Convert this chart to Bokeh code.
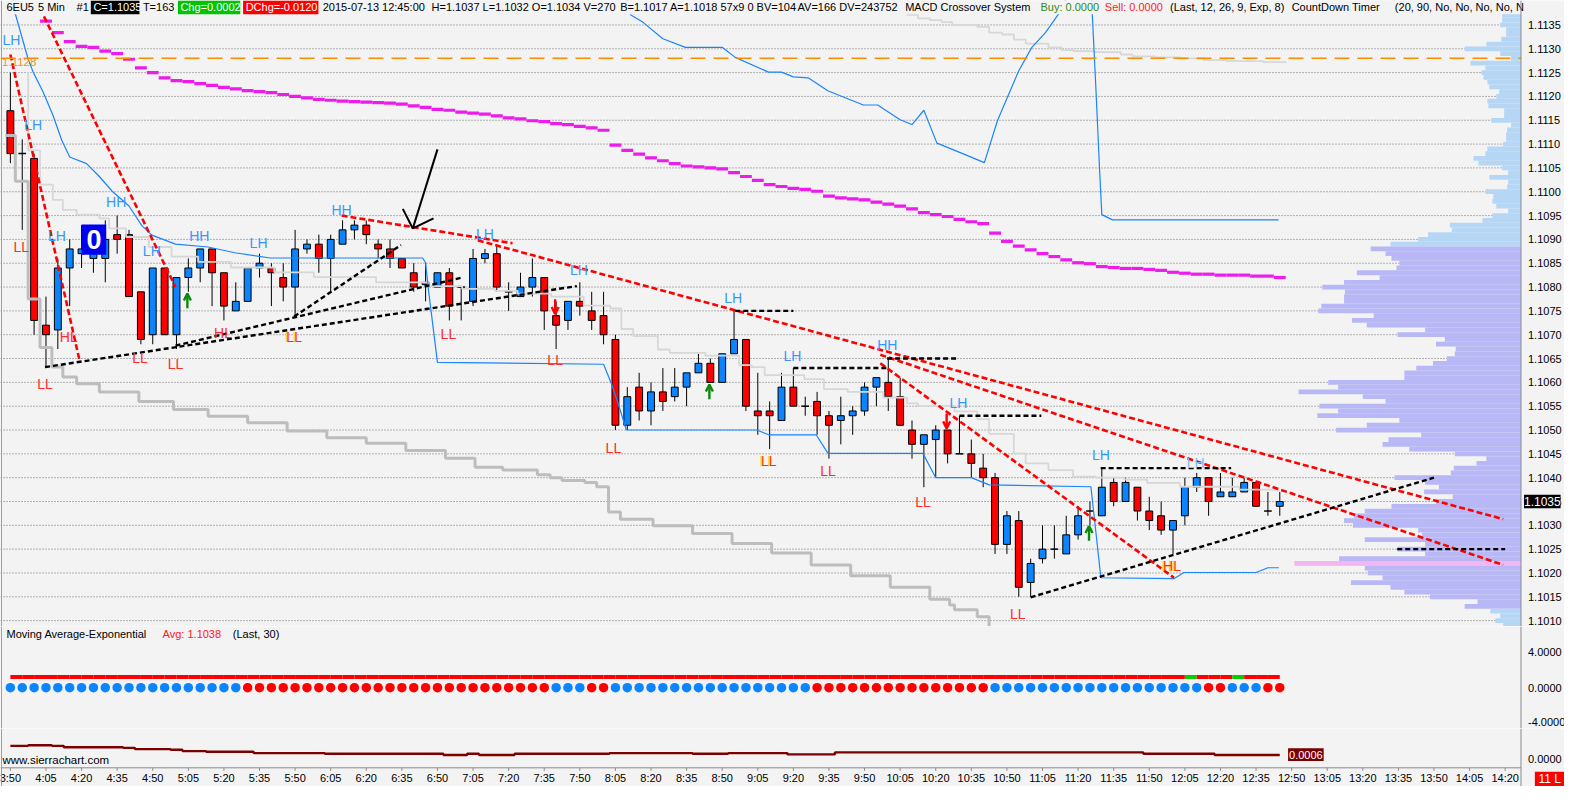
import numpy as np
from bokeh.plotting import figure
from bokeh.layouts import column
from bokeh.models import Range1d, Span, Arrow, OpenHead
from bokeh.embed import file_html
from bokeh.resources import INLINE
from bokeh.core.properties import value

# ---------------- DATA ----------------
# 5-minute bars, bar 0 = 3:50
opens = [1.1117, 1.1108, 1.1107, 1.1072, 1.1071, 1.1084, 1.1087, 1.1086, 1.1086, 1.1091,
         1.1091, 1.1079, 1.1070, 1.1084, 1.1070, 1.1082, 1.1084, 1.1088, 1.1083, 1.1075,
         1.1077, 1.1084, 1.1084, 1.1082, 1.1080, 1.1088, 1.1089, 1.1086, 1.1089, 1.1092,
         1.1093, 1.1089, 1.1088, 1.1086, 1.1083, 1.10805, 1.1080, 1.1083, 1.1080, 1.1077,
         1.1086, 1.1087, 1.1079, 1.1078, 1.1080, 1.1082, 1.1074, 1.1073, 1.1077, 1.1075,
         1.1074, 1.1069, 1.1051, 1.1059, 1.1054, 1.1058, 1.1057, 1.1059, 1.1062, 1.1064,
         1.1060, 1.1066, 1.1069, 1.1054, 1.1054, 1.1052, 1.1059, 1.1055, 1.1056, 1.1053,
         1.1052, 1.1053, 1.1054, 1.1059, 1.1060, 1.1057, 1.1050, 1.1047, 1.1048, 1.1050,
         1.1045, 1.1045, 1.1042, 1.1040, 1.1026, 1.1031, 1.1018, 1.1023, 1.1025, 1.1024,
         1.1028, 1.1033, 1.1032, 1.1039, 1.1035, 1.1038, 1.1033, 1.1032, 1.1029, 1.1032,
         1.1038, 1.1040, 1.1036, 1.1036, 1.1037, 1.1039, 1.1033, 1.1034]
highs = [1.1125, 1.1111, 1.1108, 1.1078, 1.1086, 1.1090, 1.1093, 1.1092, 1.1094, 1.1095,
         1.1092, 1.1079, 1.1084, 1.1084, 1.1082, 1.1086, 1.1088, 1.1088, 1.1083, 1.1081,
         1.1084, 1.1087, 1.1085, 1.1085, 1.1092, 1.1090, 1.1091, 1.1091, 1.1094, 1.1094,
         1.1094, 1.1090, 1.1090, 1.1086, 1.1085, 1.1085, 1.1083, 1.1084, 1.1080, 1.1088,
         1.1088, 1.1089, 1.1081, 1.1083, 1.1086, 1.1082, 1.1077, 1.1077, 1.1081, 1.1079,
         1.1079, 1.1070, 1.1059, 1.1062, 1.1060, 1.1063, 1.1063, 1.1062, 1.1066, 1.1065,
         1.1066, 1.1075, 1.1069, 1.1062, 1.1056, 1.1062, 1.1063, 1.1057, 1.1058, 1.1054,
         1.1057, 1.1055, 1.1060, 1.1061, 1.1065, 1.1061, 1.1052, 1.1049, 1.1051, 1.1050,
         1.1053, 1.1048, 1.1045, 1.1041, 1.1033, 1.1033, 1.1023, 1.1030, 1.1030, 1.1032,
         1.1034, 1.1035, 1.1042, 1.1040, 1.1040, 1.1038, 1.1036, 1.1035, 1.1031, 1.1040,
         1.1041, 1.1040, 1.1041, 1.1040, 1.1040, 1.1039, 1.1037, 1.1037]
lows = [1.1106, 1.1092, 1.1070, 1.1063, 1.1067, 1.1076, 1.1084, 1.1083, 1.1081, 1.1087,
        1.1078, 1.1068, 1.1068, 1.1070, 1.1067, 1.1079, 1.1081, 1.1076, 1.1073, 1.1075,
        1.1077, 1.1082, 1.1076, 1.1077, 1.1074, 1.1087, 1.1083, 1.1079, 1.1089, 1.1090,
        1.1089, 1.1086, 1.1084, 1.1084, 1.1079, 1.1077, 1.1080, 1.1073, 1.1073, 1.1076,
        1.1085, 1.1079, 1.1075, 1.1078, 1.1078, 1.1071, 1.1067, 1.1071, 1.1074, 1.1071,
        1.1068, 1.1050, 1.1050, 1.1052, 1.1051, 1.1054, 1.1056, 1.1055, 1.1062, 1.1060,
        1.1060, 1.1066, 1.1054, 1.1049, 1.1046, 1.1052, 1.1055, 1.1053, 1.1049, 1.1044,
        1.1047, 1.1049, 1.1053, 1.1055, 1.1054, 1.1051, 1.1044, 1.1038, 1.1040, 1.1043,
        1.1045, 1.1040, 1.1038, 1.1024, 1.1024, 1.1015, 1.1015, 1.1022, 1.1023, 1.1024,
        1.1027, 1.1030, 1.1032, 1.1034, 1.1035, 1.1031, 1.1029, 1.1028, 1.1024, 1.1030,
        1.1037, 1.1032, 1.1036, 1.1036, 1.1037, 1.1034, 1.1032, 1.1032]
closes = [1.1108, 1.1108, 1.1073, 1.1070, 1.1084, 1.1088, 1.1088, 1.1089, 1.1090, 1.1090,
          1.1078, 1.1069, 1.1084, 1.1070, 1.1082, 1.1084, 1.1088, 1.1083, 1.1076, 1.1077,
          1.1084, 1.1085, 1.1083, 1.1080, 1.1088, 1.1089, 1.1086, 1.1090, 1.1092, 1.1093,
          1.1091, 1.1088, 1.1086, 1.1084, 1.1080, 1.1081, 1.1083, 1.1076, 1.1080, 1.1086,
          1.1087, 1.1080, 1.1079, 1.1080, 1.1082, 1.1075, 1.1072, 1.1077, 1.1076, 1.1073,
          1.1070, 1.1051, 1.1057, 1.1054, 1.1058, 1.1056, 1.1059, 1.1062, 1.1064, 1.1060,
          1.1066, 1.1069, 1.1055, 1.1053, 1.1053, 1.1059, 1.1055, 1.1055, 1.1053, 1.1051,
          1.1053, 1.1054, 1.1059, 1.1061, 1.1057, 1.1051, 1.1047, 1.1049, 1.1050, 1.1045,
          1.1045, 1.1043, 1.1040, 1.1026, 1.1032, 1.1017, 1.1022, 1.1025, 1.1025, 1.1028,
          1.1032, 1.1033, 1.1038, 1.1035, 1.1039, 1.1033, 1.1031, 1.1029, 1.1031, 1.1038,
          1.1040, 1.1035, 1.1037, 1.1037, 1.1039, 1.1034, 1.1033, 1.1035]

time_labels = ["3:50", "4:05", "4:20", "4:35", "4:50", "5:05", "5:20", "5:35", "5:50", "6:05",
               "6:20", "6:35", "6:50", "7:05", "7:20", "7:35", "7:50", "8:05", "8:20", "8:35",
               "8:50", "9:05", "9:20", "9:35", "9:50", "10:05", "10:20", "10:35", "10:50", "11:05",
               "11:20", "11:35", "11:50", "12:05", "12:20", "12:35", "12:50", "13:05", "13:20",
               "13:35", "13:50", "14:05", "14:20"]
price_ticks = [1.1010, 1.1015, 1.1020, 1.1025, 1.1030, 1.1035, 1.1040, 1.1045, 1.1050,
               1.1055, 1.1060, 1.1065, 1.1070, 1.1075, 1.1080, 1.1085, 1.1090, 1.1095,
               1.1100, 1.1105, 1.1110, 1.1115, 1.1120, 1.1125, 1.1130, 1.1135]
sub1_ticks = [4, 0, -4]
sub2_ticks = [0]

# slow moving average (magenta), one value per bar starting at bar 3
magenta_start = 3
magenta = [1.11358, 1.11334, 1.11315, 1.11305, 1.11303, 1.11295, 1.1129, 1.11278, 1.1126, 1.1125,
           1.11239, 1.11233, 1.11231, 1.11227, 1.11223, 1.11219, 1.11216, 1.11212, 1.1121, 1.11208,
           1.11204, 1.112, 1.11197, 1.11194, 1.11192, 1.1119, 1.11189, 1.11188, 1.11187, 1.11186,
           1.11184, 1.1118, 1.11177, 1.11173, 1.11171, 1.11167, 1.11165, 1.11163, 1.11159, 1.11155,
           1.11153, 1.11149, 1.11147, 1.11143, 1.11141, 1.11137, 1.11134, 1.11129, 1.11098, 1.11087,
           1.11079, 1.11071, 1.11065, 1.11059, 1.11054, 1.11052, 1.1105, 1.11048, 1.1104, 1.11032,
           1.11024, 1.11015, 1.11011, 1.11007, 1.11005, 1.11001, 1.10991, 1.10987, 1.10985, 1.10983,
           1.10978, 1.10974, 1.1097, 1.10964, 1.10956, 1.10952, 1.10948, 1.10942, 1.10937, 1.10933,
           1.10913, 1.10896, 1.10886, 1.10878, 1.1087, 1.10864, 1.10857, 1.10851, 1.10849, 1.10843,
           1.10841, 1.10839, 1.10839, 1.10837, 1.10835, 1.10831, 1.10829, 1.10827, 1.10827, 1.10825,
           1.10825, 1.10825, 1.10823, 1.10823, 1.1082]

# lower blue average line (bar, price)
blue_lo_x = [0.2, 0.42, 1.5, 1.92, 2.75, 3.58, 4.33, 5.0, 6.42, 7.5, 8.58, 10.0, 11.08, 11.92,
             13.92, 16.67, 18.92, 21.92, 34.75, 35.0, 35.25, 36.0, 50.0, 50.67, 51.25, 51.92,
             62.92, 63.92, 67.92, 68.92, 76.92, 78.0, 81.0, 82.5, 91.08, 91.92, 98.08, 98.92,
             105.0, 106.0, 106.92]
blue_lo_y = [1.1141, 1.11373, 1.11278, 1.11251, 1.1121, 1.11161, 1.11108, 1.11073, 1.11059,
             1.11032, 1.11001, 1.1097, 1.10929, 1.10909, 1.1089, 1.10884, 1.10872, 1.10861,
             1.10861, 1.10851, 1.10792, 1.10642, 1.10638, 1.10597, 1.10554, 1.1050, 1.1050,
             1.1049, 1.1049, 1.10451, 1.10451, 1.104, 1.104, 1.10385, 1.10381, 1.1019, 1.10188,
             1.10201, 1.10201, 1.10211, 1.10211]
# upper blue line
blue_hi_x = [51.8, 52.3, 53.3, 55.0, 56.9, 60.0, 61.1, 63.9, 65.0, 66.0, 67.25, 68.9, 71.9, 73.1,
             75.0, 76.0, 77.0, 78.1, 79.4, 82.1, 83.2, 85.0, 86.1, 87.25, 88.3, 89.3, 91.1, 91.2,
             91.5, 91.8, 92.0, 92.9, 106.9]
blue_hi_y = [1.1142, 1.11371, 1.11356, 1.11321, 1.11303, 1.11303, 1.11282, 1.11251, 1.11251,
             1.11241, 1.11239, 1.11212, 1.11182, 1.11182, 1.11151, 1.11141, 1.11171, 1.11102,
             1.11089, 1.11061, 1.11149, 1.11254, 1.11303, 1.11334, 1.11371, 1.1142, 1.1142,
             1.11371, 1.11217, 1.11052, 1.10952, 1.10941, 1.10941]
# light grey stepped lines
grey_lo_x = [1.5, 1.5, 2.5, 3.58, 4.42, 5.58, 7.5, 8.33, 9.75, 11.67, 13.58, 15.83, 18.58, 22.25,
             25.58, 30.83, 35.25, 38.08, 40.83, 42.75, 45.58, 48.33, 50.58, 51.5, 52.5, 54.58,
             55.58, 58.58, 61.42, 62.5, 63.58, 66.92, 68.58, 70.58, 73.58, 75.58, 76.5, 79.58,
             81.5, 82.5, 84.58, 85.58, 87.5, 89.58, 91.5, 93.92, 95.83, 98.58, 103.58, 106.92]
grey_lo_y = [1.11251, 1.11087, 1.11015, 1.10983, 1.10962, 1.10952, 1.10944, 1.10923, 1.10905,
             1.10884, 1.10864, 1.10853, 1.10841, 1.10831, 1.10821, 1.1081, 1.10802, 1.10796,
             1.10792, 1.10786, 1.1078, 1.10761, 1.10755, 1.10712, 1.10697, 1.10669, 1.10662,
             1.10656, 1.10636, 1.10632, 1.10615, 1.10607, 1.10586, 1.1058, 1.10568, 1.10556,
             1.1055, 1.10539, 1.10523, 1.10492, 1.10451, 1.1043, 1.10416, 1.10402, 1.104,
             1.10396, 1.10389, 1.10381, 1.10375, 1.10371]
grey_hi_x = [75.4, 75.6, 76.5, 77.5, 78.5, 79.4, 81.5, 82.5, 83.6, 84.6, 85.6, 87.5, 88.6, 89.6,
             91.4, 93.6, 94.6, 96.5, 98.6, 100.6, 102.5, 105.6, 107.5]
grey_hi_y = [1.1141, 1.11371, 1.11364, 1.1136, 1.11356, 1.1135, 1.11346, 1.11334, 1.1133,
             1.11319, 1.11311, 1.11303, 1.11297, 1.11295, 1.11293, 1.11288, 1.11284, 1.11282,
             1.1128, 1.11276, 1.11274, 1.11272, 1.1127]
# darker, thick grey stepped line
grey_dk_x = [-0.42, 0.42, 1.5, 2.5, 3.5, 4.42, 5.58, 7.5, 10.83, 13.75, 16.67, 20.0, 23.33, 26.67,
             30.0, 33.33, 36.67, 39.17, 41.5, 44.42, 45.5, 46.5, 48.42, 49.42, 50.42, 51.42,
             54.17, 57.5, 60.83, 64.17, 67.5, 70.83, 74.17, 77.5, 79.17, 79.58, 81.5, 82.5]
grey_dk_y = [1.11118, 1.11022, 1.10775, 1.10673, 1.10632, 1.10611, 1.10597, 1.1058, 1.1056,
             1.10543, 1.10529, 1.10515, 1.10498, 1.10484, 1.10472, 1.10457, 1.10441, 1.10422,
             1.10416, 1.10406, 1.104, 1.10394, 1.1039, 1.10381, 1.10328, 1.10313, 1.10299,
             1.10283, 1.10262, 1.10242, 1.10217, 1.10194, 1.1017, 1.10145, 1.10133, 1.10123,
             1.10108, 1.10088]

# drawn trend lines (bar, price)
red_x0 = [0.0, 2.5, 27.92, 39.4, 73.33, 73.33]
red_y0 = [1.11288, 1.11385, 1.1095, 1.10898, 1.10658, 1.1064]
red_x1 = [5.83, 13.92, 42.33, 125.83, 125.83, 98.08]
red_y1 = [1.10646, 1.1080, 1.10892, 1.10313, 1.10217, 1.1019]
blk_x0 = [2.92, 13.92, 23.92, 61.1, 66.0, 73.9, 80.0, 91.9, 116.9, 86.0]
blk_y0 = [1.10632, 1.10677, 1.10738, 1.1075, 1.1063, 1.1065, 1.1053, 1.1042, 1.1025, 1.10149]
blk_x1 = [47.75, 38.08, 32.92, 66.0, 73.9, 79.75, 86.9, 102.9, 126.0, 120.0]
blk_y1 = [1.10802, 1.1082, 1.10888, 1.1075, 1.1063, 1.1065, 1.1053, 1.1042, 1.1025, 1.1040]
pen_x = [36.0, 33.92]
pen_y = [1.11089, 1.10923]
pen_head_x = [33.08, 33.92, 35.67]
pen_head_y = [1.10964, 1.10923, 1.10944]
level_price = 1.1128

# swing labels
lab_x = [0.08, 1.92, 3.92, 8.92, 11.92, 15.92, 20.92, 27.92, 40.0, 47.92, 60.92, 65.92, 73.92,
         79.92, 91.92, 99.92,
         0.92, 4.92, 2.92, 10.92, 13.92, 17.92, 36.92, 45.92, 50.83, 68.92, 76.92, 84.92,
         23.92, 63.92, 97.92]
lab_y = [1.11319, 1.11139, 1.10907, 1.10978, 1.10876, 1.10907, 1.10892, 1.10962, 1.10911,
         1.10835, 1.10777, 1.10656, 1.10679, 1.10556, 1.10447, 1.10430,
         1.10884, 1.10695, 1.10597, 1.10652, 1.10638, 1.10704, 1.10701, 1.10646, 1.10463,
         1.10414, 1.10350, 1.10114,
         1.10695, 1.10435, 1.10215]
lab_t = ["LH", "LH", "LH", "HH", "LH", "HH", "LH", "HH", "LH", "LH", "LH", "LH", "HH", "LH", "LH", "LH",
         "LL", "HL", "LL", "LL", "LL", "HL", "LL", "LL", "LL", "LL", "LL", "LL",
         "LL", "LL", "HL"]
lab_k = ["b"] * 15 + ["f"] + ["r"] * 12 + ["o"] * 3
arrow_x = [14.92, 58.92, 90.92, 45.92, 78.92]
arrow_y = [1.10771, 1.1058, 1.10283, 1.10759, 1.10519]
arrow_dir = ["up", "up", "up", "down", "down"]
counter_x, counter_y = 7.04, 1.108995

# volume profile: one value per 0.0001 from 1.1137 downward
prof_top = 1.1137
prof_vol = [19, 19, 21, 15, 15, 20, 35, 57, 21, 10,
            51, 36, 40, 38, 34, 32, 22, 25, 34, 33,
            17, 17, 30, 10, 14, 15, 15, 18, 34, 36,
            48, 43, 19, 13, 32, 13, 14, 36, 28, 29,
            25, 13, 29, 39, 72, 70, 94, 104, 132, 152,
            137, 131, 123, 126, 166, 143, 179, 201, 178, 179,
            179, 202, 205, 149, 171, 156, 97, 125, 77, 86,
            66, 67, 75, 89, 106, 118, 118, 195, 185, 225,
            160, 137, 204, 185, 206, 123, 156, 187, 101, 134,
            140, 113, 67, 35, 45, 68, 71, 128, 97, 83,
            98, 69, 86, 131, 158, 169, 179, 170, 104, 100,
            158, 97, 125, 97, 184, 229, 158, 155, 140, 172,
            132, 118, 92, 44, 57, 31, 21, 26, 18]
va_high, va_low, poc_price = 1.1088, 1.1013, 1.1022

# lower panes
dot_runs = [("B", 20), ("R", 26), ("B", 3), ("R", 2), ("B", 17), ("R", 15), ("B", 18),
            ("R", 2), ("B", 3), ("R", 2)]
signal_runs = [("S", 99), ("B", 1), ("S", 3), ("B", 1), ("S", 4)]
signal_level = 1.19
atr_runs = [(0.0020, 2), (0.0021, 2), (0.0020, 1), (0.0018, 5), (0.0017, 1), (0.0015, 3),
            (0.0014, 1), (0.0012, 2), (0.0011, 4), (0.0009, 6), (0.0008, 10), (0.0006, 2),
            (0.0008, 1), (0.0006, 3), (0.0008, 8), (0.0009, 7), (0.0008, 3), (0.0009, 5),
            (0.0007, 4), (0.0010, 26), (0.0008, 6), (0.0006, 6)]

# ---------------- STYLE / LAYOUT ----------------
FONT = "Liberation Sans"
BG = "#f3f3f3"
UPC, DNC = "#0a84ff", "#ff0000"
AXC = "#8a8a8a"
W = 1564
X0, XA, X_END = -0.833, 127.333, 131.0      # left edge, price-axis line, right edge (bars)
PTOP, PBOT = 1.114013, 1.100877
CLIP_TOP = 1.113726                          # top of the drawing area below the header
HDR_Y = 1.11387
HDR_H = 0.000287

xr = Range1d(X0, X_END)


def make_fig(height, yr):
    f = figure(width=W, height=height, x_range=xr, y_range=yr, output_backend="svg",
               toolbar_location=None, title=None, x_axis_location=None, y_axis_location=None,
               min_border_left=0, min_border_right=0, min_border_top=0, min_border_bottom=0,
               background_fill_color=BG, border_fill_color=BG, outline_line_color=None)
    f.xgrid.visible = False
    f.ygrid.visible = False
    f.add_layout(Span(location=X0 + 0.08, dimension="height", line_color="#9a9a9a", line_width=1))
    f.add_layout(Span(location=XA, dimension="height", line_color=AXC, line_width=1))
    return f


def tick_text(f, ys, labels):
    f.text(x=[XA] * len(ys), y=ys, text=labels, x_offset=7, text_color="black",
           text_font=value(FONT), text_font_size="11px", text_align="left",
           text_baseline="middle")


# ---------------- MAIN PANE ----------------
main = make_fig(626, Range1d(PBOT, PTOP))
main.segment(x0=X0, y0=price_ticks, x1=XA, y1=price_ticks, line_color="#6f6f6f",
             line_width=1, line_dash="1 2")

# volume profile
pv = np.array(prof_vol, dtype=float)
pp = np.round(prof_top - 0.0001 * np.arange(len(pv)), 4)
pcol = []
for pr in pp:
    if abs(pr - poc_price) < 1e-7:
        pcol.append("#f4b6f0")
    elif va_low - 1e-7 <= pr <= va_high + 1e-7:
        pcol.append("#b8b8f6")
    else:
        pcol.append("#b6d6f6")
main.hbar(y=pp, left=XA - pv / 12.0, right=XA, height=0.0001, fill_color=pcol, line_color=None)
main.hbar(y=[poc_price], left=[108.25], right=[XA], height=0.00009, fill_color="#f4b6f0",
          line_color=None)

# candles
idx = np.arange(len(opens))
o, h, l, c = (np.array(a) for a in (opens, highs, lows, closes))
up, dn, dj = c > o, c < o, c == o
main.segment(x0=idx, y0=l, x1=idx, y1=h, line_color="black", line_width=1)
main.vbar(x=idx[up], bottom=o[up], top=c[up], width=0.58, fill_color=UPC, line_color="black",
          line_width=1)
main.vbar(x=idx[dn], bottom=c[dn], top=o[dn], width=0.58, fill_color=DNC, line_color="black",
          line_width=1)
main.segment(x0=idx[dj] - 0.32, y0=o[dj], x1=idx[dj] + 0.32, y1=o[dj], line_color="black",
             line_width=1.5)

# study lines
main.step(x=grey_dk_x, y=grey_dk_y, mode="after", line_color="#bdbdbd", line_width=3)
main.step(x=grey_lo_x, y=grey_lo_y, mode="after", line_color="#d7d7d7", line_width=1.8)
main.step(x=grey_hi_x, y=grey_hi_y, mode="after", line_color="#d7d7d7", line_width=1.8)
main.line(x=blue_lo_x, y=blue_lo_y, line_color="#1a84ff", line_width=1.2)
main.line(x=blue_hi_x, y=blue_hi_y, line_color="#1a84ff", line_width=1.2)
mi = np.arange(magenta_start, magenta_start + len(magenta))
main.segment(x0=mi - 0.5, y0=magenta, x1=mi + 0.5, y1=magenta, line_color="#ec1cec",
             line_width=3.2)

# counter box
main.rect(x=[counter_x], y=[counter_y], width=2.08, height=0.000636, fill_color="#0000f0",
          line_color=None)
main.text(x=[counter_x], y=[counter_y], text=["0"], text_color="white", text_font=value(FONT),
          text_font_size="27px", text_font_style="bold", text_align="center",
          text_baseline="middle")

# drawn tools
main.segment(x0=red_x0, y0=red_y0, x1=red_x1, y1=red_y1, line_color="#ff0000", line_width=2.6,
             line_dash="6 3")
main.segment(x0=blk_x0, y0=blk_y0, x1=blk_x1, y1=blk_y1, line_color="black", line_width=2.4,
             line_dash="5 3")
main.line(x=pen_x, y=pen_y, line_color="black", line_width=2)
main.line(x=pen_head_x, y=pen_head_y, line_color="black", line_width=2)
main.segment(x0=[X0], y0=[level_price], x1=[XA], y1=[level_price], line_color="#ff8a00",
             line_width=1.6, line_dash="15 8")
main.text(x=[-0.7], y=[level_price], text=["1.1128"], text_color="#ff8c1a",
          text_font=value(FONT), text_font_size="11.5px", text_baseline="top", text_align="left")

# swing labels
kc = {"b": "#3399ff", "f": "#7fbcf5", "r": "#ff2a2a", "o": "#ff3300"}
ox = [x for x, k in zip(lab_x, lab_k) if k == "o"]
oy = [y for y, k in zip(lab_y, lab_k) if k == "o"]
ot = [t for t, k in zip(lab_t, lab_k) if k == "o"]
main.text(x=ox, y=oy, text=ot, text_color="#ffd21f", text_font=value(FONT),
          text_font_size="14px", text_align="center", text_baseline="middle", x_offset=-1.5)
main.text(x=lab_x, y=lab_y, text=lab_t, text_color=[kc[k] for k in lab_k], text_font=value(FONT),
          text_font_size="14px", text_align="center", text_baseline="middle")
for ax_, ay_, d in zip(arrow_x, arrow_y, arrow_dir):
    col = "#0a8a0a" if d == "up" else "#ff0000"
    s = 1 if d == "up" else -1
    main.add_layout(Arrow(x_start=ax_, y_start=ay_ - s * 0.000155, x_end=ax_, y_end=ay_ + s * 0.000155,
                          line_color=col, line_width=2.4,
                          end=OpenHead(line_color=col, line_width=2.4, size=7)))

# header band (covers the study lines above the drawing area)
main.quad(left=[X0], right=[XA], bottom=[CLIP_TOP], top=[PTOP + 0.0001], fill_color=BG,
          line_color=None)
box_x = [8.83, 16.75, 22.79]
box_w = [4.1, 5.25, 6.35]
box_c = ["black", "#00c400", "#ff0000"]
main.rect(x=box_x, y=[HDR_Y] * 3, width=box_w, height=HDR_H, fill_color=box_c, line_color=None)
hdr_x = [-0.33, 2.33, 5.58, 7.0, 11.17, 14.33, 19.83, 26.33, 35.5, 51.4, 66.35, 75.42, 86.83,
         92.25, 97.75, 108.0, 116.7]
hdr_t = ["6EU5", "5 Min", "#1", "C=1.1035", "T=163", "Chg=0.0002", "DChg=-0.0120",
         "2015-07-13 12:45:00", "H=1.1037 L=1.1032 O=1.1034 V=270",
         "B=1.1017 A=1.1018 57x9 0 BV=104", "AV=166 DV=243752", "MACD Crossover System",
         "Buy: 0.0000", "Sell: 0.0000", "(Last, 12, 26, 9, Exp, 8)", "CountDown Timer",
         "(20, 90, No, No, No, No, N"]
hdr_c = ["black", "black", "black", "white", "black", "white", "white", "black", "black",
         "black", "black", "black", "#2e8b22", "#ff1f1f", "black", "black", "black"]
main.text(x=hdr_x, y=[HDR_Y] * len(hdr_x), text=hdr_t, text_color=hdr_c, text_font=value(FONT),
          text_font_size="11px", text_align="left", text_baseline="middle")

# price axis labels and last-price tag
tick_text(main, price_ticks, ["%.4f" % t for t in price_ticks])
main.rect(x=[129.13], y=[closes[-1]], width=3.08, height=HDR_H, fill_color="black",
          line_color=None)
main.text(x=[129.13], y=[closes[-1]], text=["%.4f" % closes[-1]], text_color="white",
          text_font=value(FONT), text_font_size="12px", text_align="center",
          text_baseline="middle")

# ---------------- SUB PANE 1 (MACD crossover) ----------------
sub1 = make_fig(102, Range1d(-4.541, 6.811))
dots = [s for s, n in dot_runs for _ in range(n)]
sig = [s for s, n in signal_runs for _ in range(n)]
sub1.rect(x=idx[:-1] + 0.5, y=signal_level, width=1.0, height=0.45,
          fill_color=["#00d000" if s == "B" else "#ff0000" for s in sig[:-1]], line_color=None)
sub1.scatter(x=idx, y=np.zeros(len(idx)), size=9.5, marker="circle", line_color=None,
             fill_color=["#0a84ff" if s == "B" else "#ff0000" for s in dots])
sub1.text(x=[-0.33, 12.83, 18.75], y=[5.95] * 3,
          text=["Moving Average-Exponential", "Avg: 1.1038", "(Last, 30)"],
          text_color=["black", "#ff2020", "black"], text_font=value(FONT), text_font_size="11px",
          text_align="left", text_baseline="middle")
# the lowest label is nudged up a little so that it is not cut by the pane edge
tick_text(sub1, [4, 0, -3.8], ["%.4f" % t for t in sub1_ticks])

# ---------------- SUB PANE 2 + time axis ----------------
AX_Y = -0.00135
sub2 = make_fig(58, Range1d(-0.0042, 0.00465))
atr = [v for v, n in atr_runs for _ in range(n)]
sub2.step(x=idx, y=atr, mode="center", line_color="#7d0000", line_width=2.4)
sub2.rect(x=[109.2], y=[0.000675], width=3.0, height=0.00195, fill_color="#7a0000",
          line_color=None)
sub2.text(x=[109.2], y=[0.000675], text=["%.4f" % atr[-1]], text_color="white",
          text_font=value(FONT), text_font_size="11px", text_align="center",
          text_baseline="middle")
sub2.text(x=[-0.67], y=[-0.00015], text=["www.sierrachart.com"], text_color="black",
          text_font=value(FONT), text_font_size="11.5px", text_align="left",
          text_baseline="middle")
tick_text(sub2, sub2_ticks, ["%.4f" % t for t in sub2_ticks])
tpos = [3 * k for k in range(len(time_labels))]
sub2.segment(x0=[X0], y0=[AX_Y], x1=[XA], y1=[AX_Y], line_color=AXC, line_width=1)
sub2.segment(x0=tpos, y0=AX_Y, x1=tpos, y1=AX_Y - 0.00046, line_color=AXC, line_width=1)
sub2.text(x=tpos, y=[-0.00285] * len(tpos), text=time_labels, text_color="black",
          text_font=value(FONT), text_font_size="11px", text_align="center",
          text_baseline="middle")
sub2.rect(x=[129.75], y=[-0.003075], width=2.5, height=0.00225, fill_color="#ff0000",
          line_color=None)
sub2.text(x=[129.75], y=[-0.003075], text=["11 L"], text_color="white", text_font=value(FONT),
          text_font_size="12px", text_align="center", text_baseline="middle")

layout = column(main, sub1, sub2, spacing=0)
open("out.html", "w").write(file_html(layout, INLINE))
